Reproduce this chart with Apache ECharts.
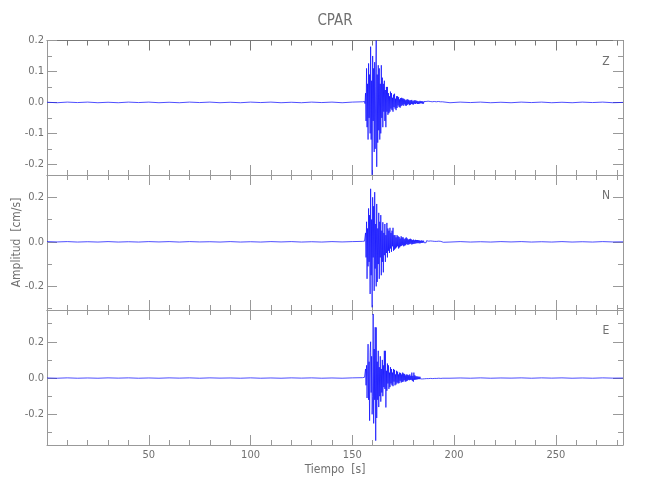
<!DOCTYPE html>
<html><head><meta charset="utf-8">
<script src="https://cdn.jsdelivr.net/npm/echarts@6/dist/echarts.min.js"></script>
<style>html,body{margin:0;padding:0;background:#fff}#c{width:650px;height:500px}</style>
</head><body><div id="c"></div>
<script>
// ---- data ----
const stationName = 'CPAR';
const componentNames = ['Z', 'N', 'E'];
const xRange = [0, 283];
const xMajorTicks = [50, 100, 150, 200, 250];
const xMinorTicks = [10, 20, 30, 40, 60, 70, 80, 90, 110, 120, 130, 140, 160, 170, 180, 190, 210, 220, 230, 240, 260, 270, 280];

const yRangeZ = [-0.2345, 0.2];
const yRangeN = [-0.306, 0.30];
const yRangeE = [-0.369, 0.375];
const yMajorZ = [-0.2, -0.1, 0.0, 0.1, 0.2];
const yMinorZ = [-0.15, -0.05, 0.05, 0.15];
const yMajorN = [-0.2, 0.0, 0.2];
const yMinorN = [-0.3, -0.1, 0.1];
const yMajorE = [-0.2, 0.0, 0.2];
const yMinorE = [-0.3, -0.1, 0.1, 0.3];

// sampling of the three pieces of each trace (seconds)
const preStart = 0, preStep = 5;       // 0 .. 150
const eventStart = 155, eventStep = 0.25; // 155 .. 195
const postStart = 198, postStep = 5;   // 198 .. 283

const preZ = [0.0005,-0.001,0.001,-0.0005,0.001,-0.001,0.0005,-0.001,0.001,-0.0005,
  0.001,-0.001,0.0005,-0.001,0.001,-0.0005,0.001,-0.001,0.0005,-0.001,
  0.001,-0.0005,0.001,-0.001,0.0005,-0.001,0.001,-0.0005,0.001,-0.001,0.001];
const eventZ = [
  0.002,-0.003,0.003,-0.002,   0.003,-0.004,0.03,-0.06,     0.11,-0.08,0.06,-0.12,
  0.126,-0.05,0.09,-0.10,      0.18,-0.12,0.07,-0.234,      0.15,-0.06,0.11,-0.16,
  0.13,-0.15,0.05,0.2,         -0.208,0.09,-0.13,0.12,      -0.09,0.11,-0.12,0.06,
  -0.1,0.12,-0.05,0.08,        -0.08,0.06,-0.03,0.07,       -0.06,0.04,-0.08,0.05,
  -0.03,0.05,-0.04,0.03,       -0.035,0.02,-0.03,0.035,     -0.02,0.03,-0.025,0.015,
  -0.03,0.025,-0.015,0.028,    -0.02,0.012,-0.025,0.02,     -0.018,0.02,-0.01,0.017,
  -0.015,0.01,-0.017,0.014,    -0.012,0.015,-0.008,0.013,   -0.011,0.012,-0.006,0.01,
  -0.01,0.007,-0.011,0.009,    -0.008,0.01,-0.005,0.008,    -0.009,0.006,-0.008,0.007,
  -0.005,0.008,-0.006,0.004,   -0.007,0.006,-0.004,0.007,   -0.005,0.006,-0.003,0.005,
  -0.005,0.004,-0.005,0.003,   -0.004,0.005,-0.003,0.004,   -0.003,0.004,-0.004,0.003,
  -0.004,0.003,-0.002,0.004,   -0.003,0.003,-0.003,0.002,   -0.003,0.004,-0.002,0.003,
  -0.002,0.003,-0.003,0.002,   -0.003,0.002,-0.002,0.003,   -0.002,0.003,-0.002,0.002,
  -0.002,0.002,-0.003,0.002,   -0.002,0.003,-0.002,0.002,   -0.002,0.002,-0.002,0.001,
  -0.001,0.002,-0.002,0.001,   0.001];
const postZ = [-0.001,0.001,-0.0005,0.001,-0.001,0.0005,-0.001,0.001,-0.0005,0.001,-0.001,0.0005,-0.001,0.001,-0.0005,0.001,-0.001,0.0];

const preN = [0.001,-0.0005,0.001,-0.001,0.0005,-0.001,0.001,-0.001,0.0005,-0.001,
  0.001,-0.0005,0.001,-0.001,0.001,-0.0005,0.0005,-0.001,0.001,-0.001,
  0.0005,-0.001,0.001,-0.0005,0.001,-0.001,0.0005,-0.001,0.001,-0.0005,0.001];
const eventN = [
  0.002,-0.003,0.003,-0.002,   0.003,-0.004,0.04,-0.07,     0.09,-0.166,0.06,-0.11,
  0.15,-0.09,0.12,-0.234,      0.238,-0.15,0.1,-0.294,      0.2,-0.07,0.16,-0.22,
  0.223,-0.12,0.08,-0.2,       0.17,-0.18,0.06,-0.1,        0.13,-0.166,0.09,-0.07,
  0.12,-0.15,0.05,-0.09,       0.088,-0.137,0.04,-0.06,     0.08,-0.09,0.03,-0.05,
  0.085,-0.07,0.06,-0.04,      0.05,-0.05,0.063,-0.03,      0.04,-0.045,0.05,-0.02,
  0.063,-0.04,0.03,-0.035,     0.03,-0.03,0.02,-0.025,      0.03,-0.02,0.025,-0.03,
  0.022,-0.025,0.015,-0.02,    0.025,-0.018,0.02,-0.015,    0.02,-0.02,0.012,-0.017,
  0.016,-0.015,0.02,-0.01,     0.015,-0.013,0.01,-0.012,    0.012,-0.01,0.014,-0.008,
  0.011,-0.012,0.008,-0.01,    0.01,-0.009,0.007,-0.008,    0.009,-0.007,0.008,-0.006,
  0.008,-0.006,0.007,-0.006,   0.006,-0.007,0.005,-0.005,   0.006,-0.005,0.005,-0.004,
  0.005,-0.004,0.004,-0.005,   0.004,-0.004,0.005,-0.003,   0.004,-0.003,0.003,-0.004,
  0.003,-0.003,0.004,-0.003,   0.003,-0.002,0.003,-0.003,   0.002,-0.003,0.002,-0.002,
  0.003,-0.002,0.002,-0.002,   0.002,-0.002,0.003,-0.002,   0.002,-0.002,0.002,-0.001,
  0.002,-0.001,0.001,-0.002,   0.001];
const postN = [-0.001,0.001,-0.001,0.0005,-0.001,0.001,-0.0005,0.001,-0.001,0.0005,-0.001,0.001,-0.001,0.0005,-0.001,0.001,-0.0005,0.0];

const preE = [0.0005,-0.001,0.001,-0.001,0.0005,-0.001,0.001,-0.0005,0.001,-0.001,
  0.0005,-0.001,0.001,-0.0005,0.001,-0.001,0.001,-0.0005,0.0005,-0.001,
  0.001,-0.001,0.0005,-0.001,0.001,-0.0005,0.001,-0.001,0.0005,-0.001,0.001];
const eventE = [
  0.002,-0.003,0.003,-0.002,   0.004,-0.003,0.05,-0.04,     0.07,-0.11,0.05,0.187,
  -0.12,0.09,-0.235,0.14,      0.2,-0.08,0.12,-0.2,         -0.1,0.353,-0.25,0.16,
  -0.12,0.28,-0.345,0.279,     -0.22,0.09,-0.12,0.15,       -0.16,0.06,-0.1,0.12,
  -0.13,0.05,-0.08,0.1,        -0.1,0.07,-0.05,0.15,        -0.06,0.15,-0.162,0.04,
  -0.07,0.08,-0.03,0.07,       -0.06,0.03,-0.05,0.06,       -0.03,0.05,-0.04,0.03,
  -0.045,0.05,-0.02,0.045,     -0.04,0.02,-0.035,0.04,      -0.025,0.035,-0.03,0.02,
  -0.028,0.03,-0.015,0.028,    -0.025,0.02,-0.022,0.03,     -0.02,0.025,-0.012,0.022,
  -0.02,0.015,-0.018,0.02,     -0.015,0.018,-0.01,0.015,    -0.012,0.02,-0.01,0.012,
  -0.01,0.03,-0.015,0.012,     -0.02,0.03,-0.01,0.015,      -0.009,0.01,-0.008,0.009,
  -0.007,0.008,-0.006,0.007,   -0.006,0.007,-0.005,0.006,   -0.005,0.006,-0.005,0.005,
  -0.004,0.005,-0.004,0.004,   -0.004,0.004,-0.003,0.004,   -0.003,0.004,-0.003,0.003,
  -0.003,0.003,-0.002,0.003,   -0.002,0.003,-0.003,0.002,   -0.002,0.002,-0.002,0.003,
  -0.002,0.002,-0.002,0.002,   -0.002,0.002,-0.001,0.002,   -0.002,0.001,-0.002,0.002,
  -0.001,0.002,-0.001,0.001,   0.001];
const postE = [-0.001,0.0005,-0.001,0.001,-0.001,0.0005,-0.0005,0.001,-0.001,0.001,-0.0005,0.001,-0.001,0.0005,-0.001,0.001,-0.0005,0.0];

// ---- build chart ----
function trace(pre, ev, post) {
  const out = [];
  pre.forEach((v, i) => out.push([preStart + i * preStep, v]));
  ev.forEach((v, i) => out.push([eventStart + i * eventStep, v]));
  post.forEach((v, i) => out.push([postStart + i * postStep, v]));
  return out;
}
const traces = [trace(preZ, eventZ, postZ), trace(preN, eventN, postN), trace(preE, eventE, postE)];
const yRanges = [yRangeZ, yRangeN, yRangeE];
const yMajors = [yMajorZ, yMajorN, yMajorE];
const yMinors = [yMinorZ, yMinorN, yMinorE];

const FONT = '"Liberation Sans Narrow", "DejaVu Sans Condensed", "Liberation Sans", sans-serif';
const TXT = '#707070';
const AX = '#999';
const gridTops = [40.5, 175, 310];
const gridH = [134.5, 135, 135];

const grids = [], xAxes = [], yAxes = [], series = [], graphics = [];
for (let i = 0; i < 3; i++) {
  grids.push({ left: 47, right: 27, top: gridTops[i], height: gridH[i], outerBoundsMode: 'none', containLabel: false });
  const xBase = { gridIndex: i, type: 'value', min: xRange[0], max: xRange[1], splitLine: { show: false } };
  const tickLine = { color: AX, width: 1 };
  const topColor = i === 0 ? '#777' : AX;
  xAxes.push(Object.assign({}, xBase, {
    position: 'bottom',
    axisLine: { show: true, onZero: false, lineStyle: { color: AX, width: 1 } },
    axisTick: { show: true, inside: true, length: 10, customValues: xMajorTicks, lineStyle: tickLine },
    axisLabel: { show: i === 2, customValues: xMajorTicks, margin: 5, color: TXT, fontFamily: FONT, fontSize: 11 },
    name: i === 2 ? 'Tiempo  [s]' : '', nameLocation: 'middle', nameGap: 19, nameMoveOverlap: false,
    nameTextStyle: { color: TXT, fontFamily: FONT, fontSize: 12 }
  }));
  xAxes.push(Object.assign({}, xBase, {
    position: 'bottom',
    axisLine: { show: false, onZero: false },
    axisTick: { show: true, inside: true, length: 5, customValues: xMinorTicks, lineStyle: tickLine },
    axisLabel: { show: false }
  }));
  xAxes.push(Object.assign({}, xBase, {
    position: 'top',
    axisLine: { show: true, onZero: false, lineStyle: { color: topColor, width: 1 } },
    axisTick: { show: true, inside: true, length: 10, customValues: xMajorTicks, lineStyle: { color: topColor } },
    axisLabel: { show: false }
  }));
  xAxes.push(Object.assign({}, xBase, {
    position: 'top',
    axisLine: { show: false, onZero: false },
    axisTick: { show: true, inside: true, length: 5, customValues: xMinorTicks, lineStyle: { color: topColor } },
    axisLabel: { show: false }
  }));

  const yBase = { gridIndex: i, type: 'value', min: yRanges[i][0], max: yRanges[i][1], splitLine: { show: false } };
  yAxes.push(Object.assign({}, yBase, {
    position: 'left',
    axisLine: { show: true, onZero: false, lineStyle: { color: AX, width: 1 } },
    axisTick: { show: true, inside: true, length: 10, customValues: yMajors[i], lineStyle: tickLine },
    axisLabel: { show: true, customValues: yMajors[i], margin: 3, color: TXT, fontFamily: FONT, fontSize: 11,
      formatter: v => v.toFixed(1) },
    name: i === 1 ? 'Amplitud  [cm/s]' : '', nameLocation: 'middle', nameGap: 24, nameMoveOverlap: false,
    nameTextStyle: { color: TXT, fontFamily: FONT, fontSize: 12 }
  }));
  yAxes.push(Object.assign({}, yBase, {
    position: 'left',
    axisLine: { show: false, onZero: false },
    axisTick: { show: true, inside: true, length: 5, customValues: yMinors[i], lineStyle: tickLine },
    axisLabel: { show: false }
  }));
  yAxes.push(Object.assign({}, yBase, {
    position: 'right',
    axisLine: { show: true, onZero: false, lineStyle: { color: AX, width: 1 } },
    axisTick: { show: true, inside: true, length: 10, customValues: yMajors[i], lineStyle: tickLine },
    axisLabel: { show: false }
  }));
  yAxes.push(Object.assign({}, yBase, {
    position: 'right',
    axisLine: { show: false, onZero: false },
    axisTick: { show: true, inside: true, length: 5, customValues: yMinors[i], lineStyle: tickLine },
    axisLabel: { show: false }
  }));

  series.push({
    name: componentNames[i], type: 'line', xAxisIndex: i * 4, yAxisIndex: i * 4,
    data: traces[i], showSymbol: false, symbol: 'none', sampling: null, smooth: false,
    lineStyle: { color: '#0a0aff', width: 0.9, opacity: 0.8 }, silent: true, clip: true
  });

  graphics.push({
    type: 'text', x: 606, y: gridTops[i] + 21, silent: true,
    style: { text: componentNames[i], fill: TXT, font: '12px ' + FONT, textAlign: 'center', textVerticalAlign: 'middle' }
  });
}
graphics.push({
  type: 'text', x: 335, y: 21, silent: true,
  style: { text: stationName, fill: TXT, font: '15px ' + FONT, textAlign: 'center', textVerticalAlign: 'middle' }
});

const chart = echarts.init(document.getElementById('c'), null, { renderer: 'canvas' });
chart.setOption({
  animation: false,
  backgroundColor: '#ffffff',
  grid: grids, xAxis: xAxes, yAxis: yAxes, series: series, graphic: graphics
});
</script></body></html>
